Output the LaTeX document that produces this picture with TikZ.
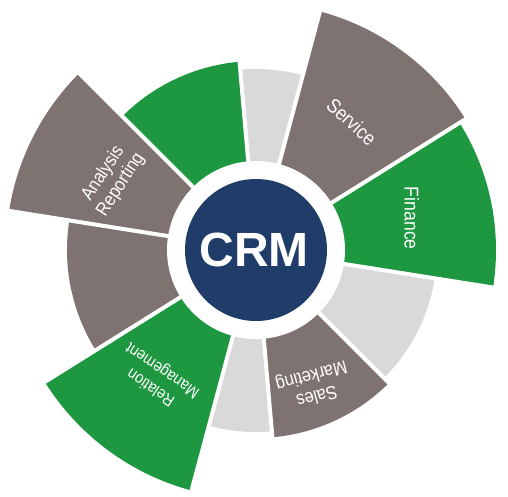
\documentclass[tikz,border=0pt]{standalone}
\usepackage{fontspec}
\setmainfont{Liberation Sans}
\newfontfamily\segfont[FakeStretch=0.88]{Liberation Sans}
\usepackage{tikz}
\definecolor{crmblue}{RGB}{32, 60, 104}
\definecolor{segbrown}{RGB}{126, 115, 112}
\definecolor{seggreen}{RGB}{30, 152, 64}
\definecolor{seglight}{RGB}{217, 217, 217}

\begin{document}
\begin{tikzpicture}[
    x=1pt, y=1pt,
    divider/.style={white, line width=4pt},
    seglabel/.style={text=white, align=center, inner sep=0pt, font=\segfont\fontsize{18.8}{21}\selectfont},
    biglabel/.style={seglabel, font=\segfont\fontsize{20}{22}\selectfont}
]
    \useasboundingbox (-256,-246) rectangle (252,250);

    % Sectors
    \fill[seglight] (0,0) -- (75:181) arc[start angle=75, end angle=95, radius=181] -- cycle;
    \fill[segbrown] (0,0) -- (32:247) arc[start angle=32, end angle=75, radius=247] -- cycle;
    \fill[seggreen] (0,0) -- (-9:240) arc[start angle=-9, end angle=32, radius=240] -- cycle;
    \fill[seglight] (0,0) -- (-45:181) arc[start angle=-45, end angle=-9, radius=181] -- cycle;
    \fill[segbrown] (0,0) -- (-85:188) arc[start angle=-85, end angle=-45, radius=188] -- cycle;
    \fill[seglight] (0,0) -- (-105:182) arc[start angle=-105, end angle=-85, radius=182] -- cycle;
    \fill[seggreen] (0,0) -- (-148:249) arc[start angle=-148, end angle=-105, radius=249] -- cycle;
    \fill[segbrown] (0,0) -- (171:189) arc[start angle=171, end angle=212, radius=189] -- cycle;
    \fill[segbrown] (0,0) -- (135:250) arc[start angle=135, end angle=171, radius=250] -- cycle;
    \fill[seggreen] (0,0) -- (95:189) arc[start angle=95, end angle=135, radius=189] -- cycle;

    % Gaps between sectors
    \draw[divider] (0,0) -- (95:255);
    \draw[divider] (0,0) -- (75:255);
    \draw[divider] (0,0) -- (32:255);
    \draw[divider] (0,0) -- (-9:255);
    \draw[divider] (0,0) -- (-45:255);
    \draw[divider] (0,0) -- (-85:255);
    \draw[divider] (0,0) -- (-105:255);
    \draw[divider] (0,0) -- (212:255);
    \draw[divider] (0,0) -- (171:255);
    \draw[divider] (0,0) -- (135:255);

    % Hub
    \fill[white] (0,0) circle[radius=89];
    \fill[crmblue] (0,0) circle[radius=71];
    \node[text=white, font=\bfseries\fontsize{48}{48}\selectfont] (crm) at (-2,0) {CRM};

    % Labels
    \node[biglabel, rotate=-42] (service) at (53.3:160) {Service};
    \node[biglabel, rotate=-90] (finance) at (11.5:159) {Finance};
    \node[seglabel, rotate=-165] (sales) at (-66.8:147) {Sales\\Marketing};
    \node[seglabel, rotate=146, font=\segfont\fontsize{16.5}{20.5}\selectfont] (relation) at (232.4:162) {Relation\\Management};
    \node[seglabel, rotate=57] (analysis) at (153.8:160.5) {Analysis\\Reporting};

\end{tikzpicture}
\end{document}
